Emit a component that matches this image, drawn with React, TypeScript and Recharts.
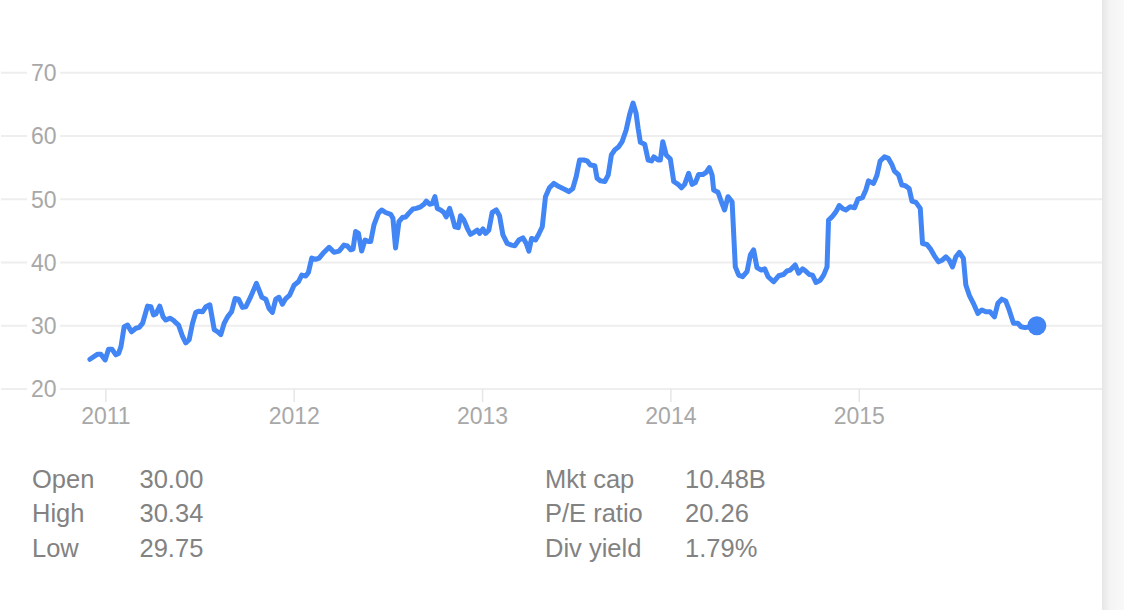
import { LineChart, Line, XAxis, YAxis, CartesianGrid } from 'recharts';

// fractional year of each weekly-ish sample
const times = [
  2010.915, 2010.956, 2010.973, 2010.996, 2011.014, 2011.032, 2011.053, 2011.067, 2011.08, 2011.097,
  2011.115, 2011.136, 2011.159, 2011.177, 2011.195, 2011.221, 2011.239, 2011.253, 2011.265, 2011.286,
  2011.304, 2011.318, 2011.34, 2011.357, 2011.371, 2011.386, 2011.407, 2011.424, 2011.442, 2011.46,
  2011.477, 2011.495, 2011.513, 2011.531, 2011.552, 2011.575, 2011.593, 2011.61, 2011.628, 2011.646,
  2011.667, 2011.686, 2011.704, 2011.725, 2011.743, 2011.769, 2011.799, 2011.813, 2011.828, 2011.849,
  2011.866, 2011.884, 2011.902, 2011.919, 2011.937, 2011.955, 2011.976, 2011.999, 2012.022, 2012.04,
  2012.061, 2012.075, 2012.093, 2012.114, 2012.132, 2012.153, 2012.185, 2012.211, 2012.238, 2012.264,
  2012.282, 2012.3, 2012.312, 2012.326, 2012.341, 2012.358, 2012.376, 2012.394, 2012.406, 2012.423,
  2012.447, 2012.464, 2012.485, 2012.512, 2012.524, 2012.538, 2012.556, 2012.574, 2012.592, 2012.609,
  2012.63, 2012.648, 2012.671, 2012.689, 2012.701, 2012.719, 2012.733, 2012.747, 2012.76, 2012.777,
  2012.795, 2012.807, 2012.825, 2012.839, 2012.853, 2012.871, 2012.883, 2012.901, 2012.919, 2012.936,
  2012.954, 2012.972, 2012.984, 2013.002, 2013.016, 2013.033, 2013.051, 2013.073, 2013.09, 2013.108,
  2013.131, 2013.154, 2013.171, 2013.193, 2013.214, 2013.232, 2013.246, 2013.26, 2013.281, 2013.296,
  2013.317, 2013.334, 2013.355, 2013.378, 2013.405, 2013.44, 2013.458, 2013.479, 2013.497, 2013.515,
  2013.537, 2013.555, 2013.573, 2013.596, 2013.608, 2013.626, 2013.649, 2013.667, 2013.684, 2013.702,
  2013.723, 2013.741, 2013.762, 2013.78, 2013.799, 2013.815, 2013.826, 2013.838, 2013.861, 2013.879,
  2013.897, 2013.909, 2013.932, 2013.944, 2013.957, 2013.975, 2013.997, 2014.015, 2014.038, 2014.056,
  2014.073, 2014.094, 2014.112, 2014.13, 2014.147, 2014.169, 2014.187, 2014.204, 2014.219, 2014.227,
  2014.25, 2014.268, 2014.285, 2014.303, 2014.325, 2014.342, 2014.36, 2014.381, 2014.404, 2014.422,
  2014.439, 2014.457, 2014.48, 2014.498, 2014.516, 2014.545, 2014.572, 2014.598, 2014.616, 2014.634,
  2014.66, 2014.678, 2014.699, 2014.717, 2014.735, 2014.752, 2014.77, 2014.793, 2014.811, 2014.829,
  2014.837, 2014.855, 2014.876, 2014.894, 2014.911, 2014.929, 2014.952, 2014.975, 2014.993, 2015.017,
  2015.035, 2015.049, 2015.076, 2015.094, 2015.111, 2015.134, 2015.155, 2015.173, 2015.187, 2015.208,
  2015.226, 2015.244, 2015.265, 2015.28, 2015.301, 2015.324, 2015.336, 2015.359, 2015.377, 2015.399,
  2015.421, 2015.442, 2015.46, 2015.477, 2015.495, 2015.513, 2015.532, 2015.553, 2015.566, 2015.584,
  2015.606, 2015.63, 2015.651, 2015.672, 2015.695, 2015.718, 2015.736, 2015.757, 2015.778, 2015.796,
  2015.819, 2015.842, 2015.859, 2015.881, 2015.907, 2015.943,
];

const prices = [
  24.7, 25.5, 25.5, 24.6, 26.3, 26.3, 25.4, 25.6, 26.7, 29.85,
  30.1, 29.05, 29.6, 29.75, 30.4, 33.1, 33.0, 31.7, 31.85, 33.1,
  31.4, 30.9, 31.2, 30.9, 30.5, 30.1, 28.3, 27.3, 27.8, 30.4,
  32.1, 32.3, 32.2, 33.0, 33.3, 29.4, 29.05, 28.6, 30.4, 31.4,
  32.2, 34.3, 34.2, 32.9, 33.0, 34.6, 36.7, 35.65, 34.5, 34.2,
  32.75, 32.1, 34.2, 34.5, 33.4, 34.3, 34.85, 36.4, 36.95, 38.0,
  37.85, 38.4, 40.7, 40.5, 40.7, 41.45, 42.4, 41.6, 41.8, 42.75,
  42.6, 42.0, 42.1, 44.9, 44.6, 41.8, 43.55, 43.3, 43.3, 45.9,
  47.8, 48.3, 47.9, 47.6, 47.0, 42.3, 46.45, 47.1, 47.2, 47.8,
  48.45, 48.55, 48.8, 49.2, 49.7, 49.2, 49.3, 50.4, 48.55, 48.3,
  47.9, 47.2, 48.55, 47.2, 45.65, 45.5, 47.4, 46.7, 45.4, 44.45,
  44.75, 45.1, 44.6, 45.3, 44.6, 45.1, 47.9, 48.3, 47.4, 44.35,
  43.0, 42.75, 42.65, 43.55, 43.9, 43.0, 41.8, 43.8, 43.55, 44.35,
  45.65, 50.4, 51.8, 52.5, 52.0, 51.5, 51.2, 51.7, 53.55, 56.2,
  56.2, 56.05, 55.4, 55.3, 53.3, 52.9, 52.8, 53.8, 57.0, 57.8,
  58.3, 59.1, 60.9, 63.3, 65.2, 63.6, 61.2, 59.0, 58.7, 56.2,
  56.05, 56.7, 56.2, 56.2, 59.1, 57.0, 56.35, 52.8, 52.35, 51.8,
  52.35, 54.1, 52.35, 52.65, 53.9, 53.9, 54.25, 55.0, 53.8, 51.45,
  51.1, 49.6, 48.3, 50.4, 49.6, 39.3, 38.0, 37.75, 38.55, 41.2,
  42.0, 39.2, 38.8, 39.0, 37.75, 36.95, 37.9, 38.1, 38.65, 38.8,
  39.6, 38.3, 39.0, 38.6, 38.1, 38.0, 36.85, 37.2, 38.0, 39.3,
  46.7, 47.2, 48.0, 49.0, 48.55, 48.3, 48.8, 48.65, 50.0, 50.25,
  51.45, 52.9, 52.5, 53.8, 56.05, 56.7, 56.45, 55.5, 54.45, 53.9,
  52.25, 52.15, 51.7, 49.7, 49.5, 48.55, 43.0, 42.85, 42.2, 41.05,
  40.1, 40.4, 40.9, 40.4, 39.3, 40.9, 41.6, 40.65, 36.45, 34.85,
  33.55, 31.95, 32.5, 32.2, 32.2, 31.4, 33.55, 34.2, 33.9, 32.5,
  30.4, 30.4, 29.85, 29.7, 29.85, 30.0,
];

const yearTicks = [2011, 2012, 2013, 2014, 2015];
const priceTicks = [20, 30, 40, 50, 60, 70];

const leftStats = [
  ['Open', '30.00'],
  ['High', '30.34'],
  ['Low', '29.75'],
];
const rightStats = [
  ['Mkt cap', '10.48B'],
  ['P/E ratio', '20.26'],
  ['Div yield', '1.79%'],
];

const data = times.map((t, i) => ({ t, price: prices[i] }));

const FONT = '"Liberation Sans", Arial, Helvetica, sans-serif';
const BLUE = '#4285f4';

function PriceTick({ y, payload }: any) {
  return (
    <g>
      <rect x={27} y={y - 11} width={33} height={22} fill="#fff" />
      <text x={31} y={y} dy="0.36em" fill="#a8a8a8" fontSize={23} fontFamily={FONT}>
        {payload.value}
      </text>
    </g>
  );
}

function LastDot({ cx, cy, index }: any) {
  if (index !== data.length - 1) return <g key={index} />;
  return <circle key={index} cx={cx} cy={cy} r={9.5} fill={BLUE} />;
}

function StatBlock({ rows, left, valueLeft }: { rows: string[][]; left: number; valueLeft: number }) {
  return (
    <div style={{ position: 'absolute', top: 461.8, left: 0, width: 900 }}>
      {rows.map(([label, value]) => (
        <div key={label} style={{ position: 'relative', height: 34.5, lineHeight: '34.5px', whiteSpace: 'nowrap' }}>
          <span style={{ position: 'absolute', left }}>{label}</span>
          <span style={{ position: 'absolute', left: valueLeft }}>{value}</span>
        </div>
      ))}
    </div>
  );
}

export default function App() {
  return (
    <div
      style={{
        position: 'absolute',
        left: 0,
        top: 0,
        width: 1124,
        height: 610,
        background: '#fff',
        overflow: 'hidden',
        fontFamily: FONT,
      }}
    >
      <LineChart width={1102} height={440} data={data} margin={{ top: 72.7, right: 0, bottom: 0, left: 0 }}>
        <CartesianGrid vertical={false} stroke="#eeeeee" strokeWidth={2} />
        <XAxis
          dataKey="t"
          type="number"
          domain={[2010.443, 2016.289]}
          ticks={yearTicks}
          height={51}
          axisLine={false}
          tickLine={{ stroke: '#e6e6e6', strokeWidth: 1.5 }}
          tickSize={13}
          tickMargin={6}
          tick={{ fill: '#a8a8a8', fontSize: 23, fontFamily: FONT }}
          tickFormatter={(v) => String(v)}
        />
        <YAxis
          type="number"
          domain={[20, 70]}
          ticks={priceTicks}
          interval={0}
          width={1}
          axisLine={false}
          tickLine={false}
          tick={(props: any) => <PriceTick key={props.index} {...props} />}
        />
        <Line
          type="linear"
          dataKey="price"
          stroke={BLUE}
          strokeWidth={5}
          strokeLinejoin="round"
          strokeLinecap="round"
          dot={<LastDot />}
          activeDot={false}
          isAnimationActive={false}
        />
      </LineChart>
      <div style={{ fontSize: 25.5, color: '#828282' }}>
        <StatBlock rows={leftStats} left={32} valueLeft={139.5} />
        <StatBlock rows={rightStats} left={545} valueLeft={685} />
      </div>
      <div
        style={{
          position: 'absolute',
          left: 1102,
          top: 0,
          width: 22,
          height: 610,
          background: 'linear-gradient(to right, #e6e6e6, #f4f4f4 35%, #f9f9f9)',
        }}
      />
    </div>
  );
}
